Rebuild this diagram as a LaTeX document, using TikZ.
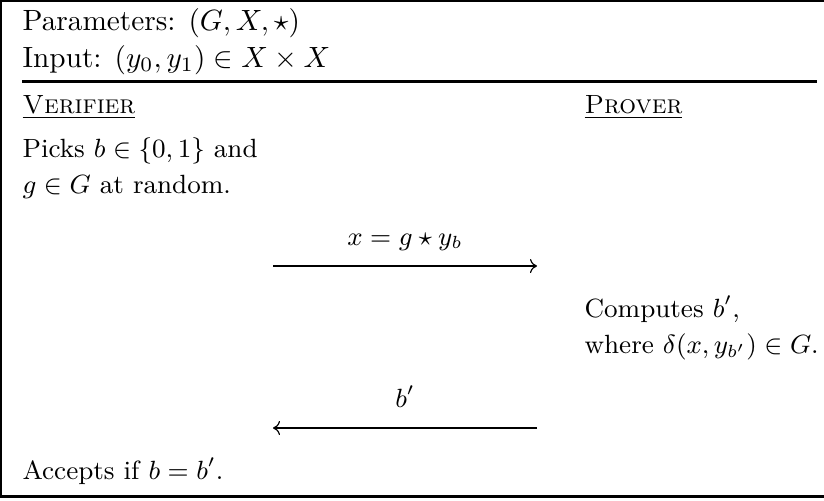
\documentclass[tikz,border=0pt]{standalone}
\usepackage{amsmath}
\usepackage{amssymb}
\usetikzlibrary{arrows.meta}

\begin{document}
\begin{tikzpicture}[
  x=0.012cm,
  y=-0.012cm,
  every node/.style={font=\small, inner sep=0pt},
  frame/.style={line width=0.8pt},
  line/.style={anchor=base west},
  head/.style={anchor=base west, font=\normalsize},
  label/.style={anchor=base},
  msg/.style={line width=0.4pt, -{To[length=2.4pt, width=4.8pt]}}
]
  % ---- bounding box: same pixel grid as the reference ----
  \useasboundingbox (0,0) rectangle (824,500);

  % ---- frame, cut off at the right edge ----
  \draw[frame] (824,1.2) -- (1.2,1.2) -- (1.2,496.5) -- (824,496.5);
  \draw[frame] (22,81.5) -- (817,81.5);

  % ---- header ----
  \node[head] (params) at (22,30) {Parameters: $(G, X, \star)$};
  \node[head] (input)  at (22,67) {Input: $(y_0, y_1) \in X \times X$};

  % ---- the two parties ----
  \node[line] (verifier) at (22,113)  {\underline{\textsc{Verifier}}};
  \node[line] (prover)   at (584,113) {\underline{\textsc{Prover}}};

  % ---- verifier's first step ----
  \node[line] (pick1) at (22,157) {Picks $b \in \{0,1\}$ and};
  \node[line] (pick2) at (22,193) {$g \in G$ at random.};

  % ---- first message ----
  \coordinate (sendL) at (273,266);
  \coordinate (sendR) at (537,266);
  \draw[msg] (sendL) -- (sendR);
  \node[label] (sendlabel) at (405,245) {$x = g \star y_b$};

  % ---- prover's step ----
  \node[line] (comp1) at (584,317) {Computes $b'$,};
  \node[line] (comp2) at (584,353) {where $\delta(x, y_{b'}) \in G$.};

  % ---- reply ----
  \coordinate (replyR) at (537,428);
  \coordinate (replyL) at (273,428);
  \draw[msg] (replyR) -- (replyL);
  \node[label] (replylabel) at (405,407) {$b'$};

  % ---- verdict ----
  \node[line] (accept) at (22,479) {Accepts if $b = b'$.};
\end{tikzpicture}
\end{document}
